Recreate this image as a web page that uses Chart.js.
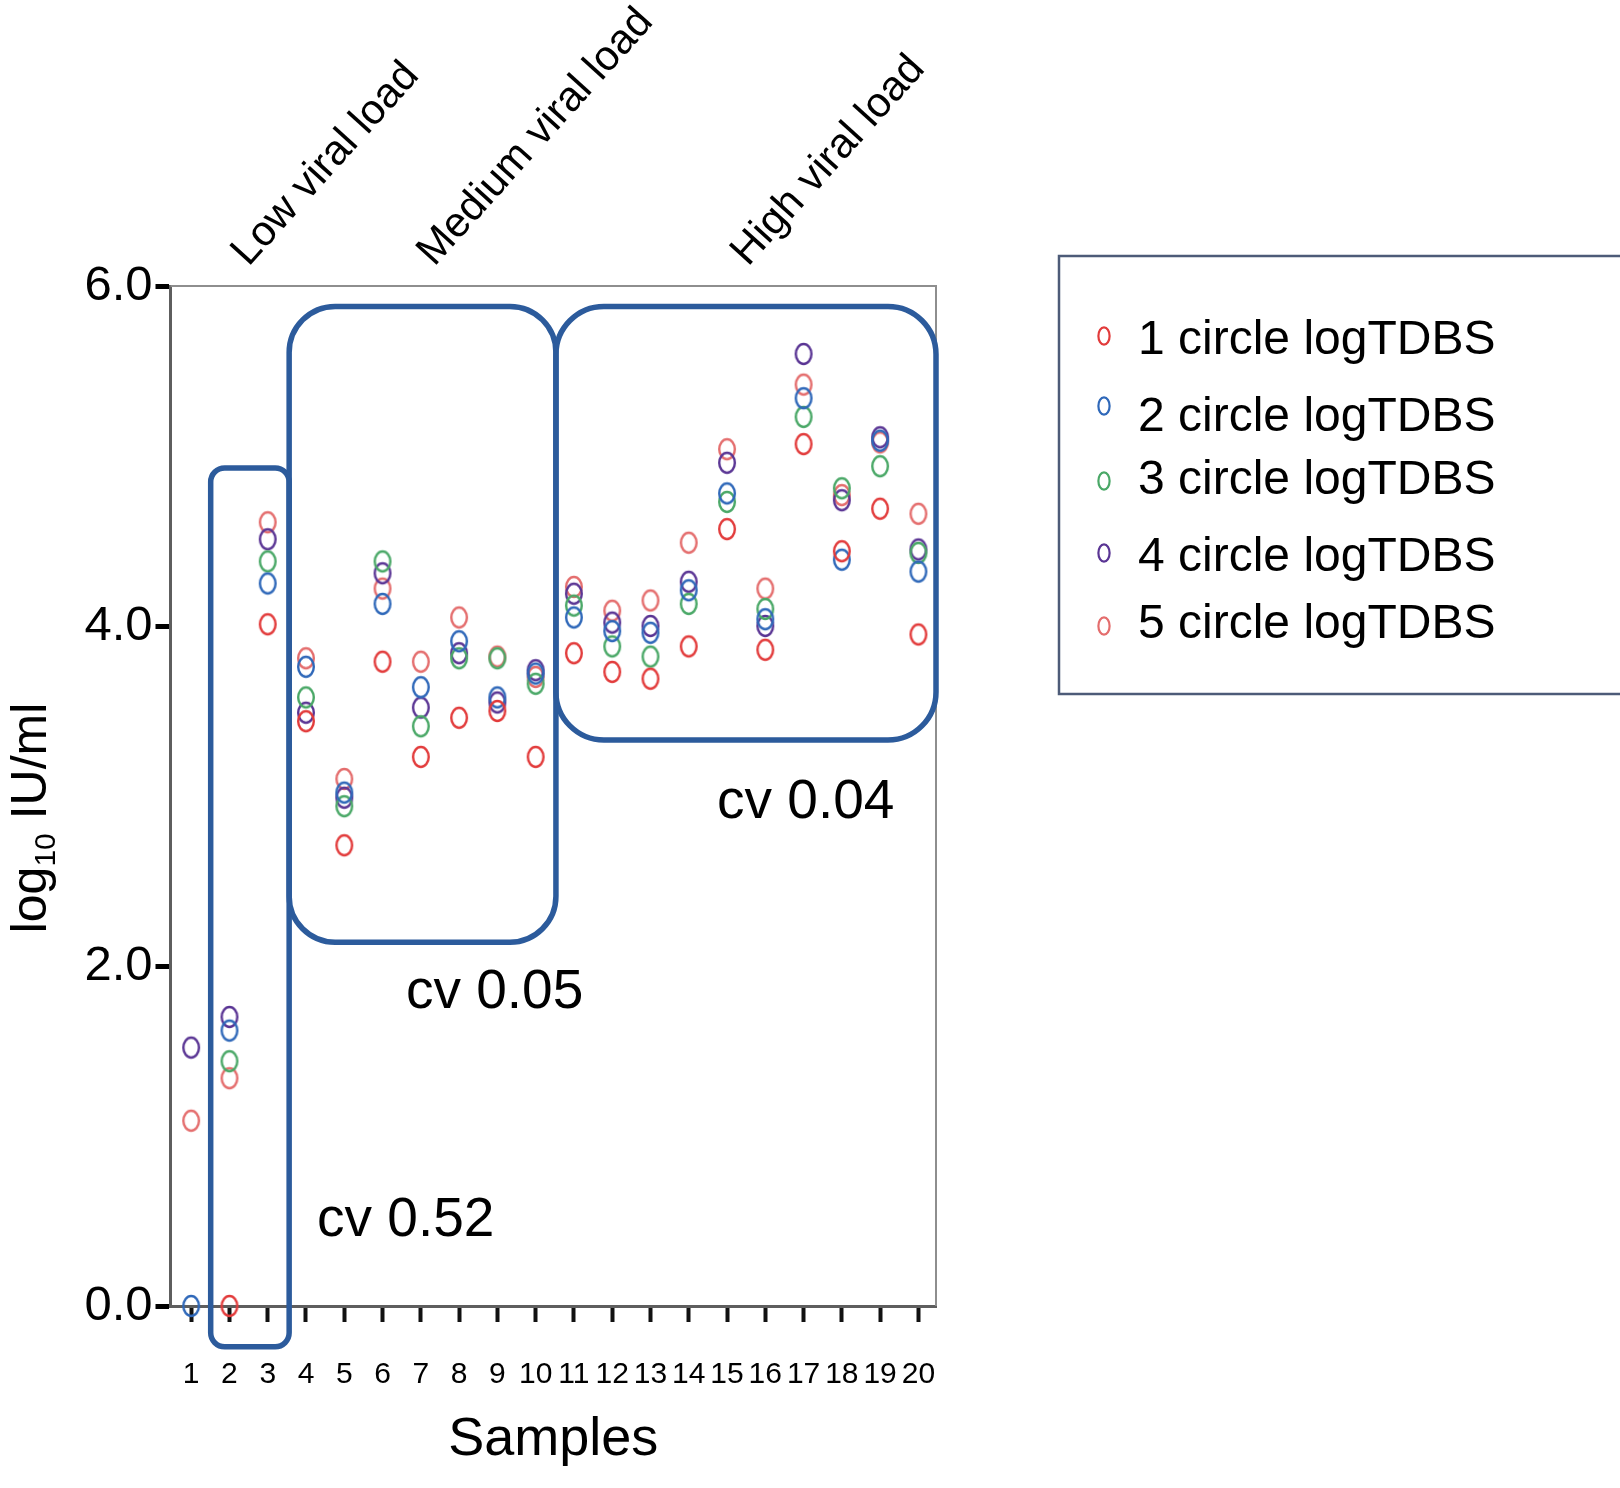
<!DOCTYPE html>
<html>
<head>
<meta charset="utf-8">
<script src="https://cdn.jsdelivr.net/npm/chart.js@4.4.1/dist/chart.umd.min.js"></script>
<style>
html,body{margin:0;padding:0;background:#fff;}
#wrap{width:1620px;height:1488px;}
</style>
</head>
<body>
<div id="wrap"><canvas id="c" width="1620" height="1488"></canvas></div>
<script>
// ---- data ----
const samples = [1,2,3,4,5,6,7,8,9,10,11,12,13,14,15,16,17,18,19,20];
const seriesNames = ['1 circle logTDBS','2 circle logTDBS','3 circle logTDBS','4 circle logTDBS','5 circle logTDBS'];
const circle1 = [null,0.00,4.01,3.44,2.71,3.79,3.23,3.46,3.50,3.23,3.84,3.73,3.69,3.88,4.57,3.86,5.07,4.44,4.69,3.95];
const circle2 = [0.00,1.62,4.25,3.76,3.02,4.13,3.64,3.91,3.58,3.72,4.05,3.97,3.96,4.21,4.78,4.04,5.34,4.39,5.09,4.32];
const circle3 = [null,1.44,4.38,3.58,2.94,4.38,3.41,3.81,3.81,3.66,4.12,3.88,3.82,4.13,4.73,4.10,5.23,4.81,4.94,4.43];
const circle4 = [1.52,1.70,4.51,3.49,2.99,4.31,3.52,3.84,3.55,3.74,4.19,4.02,4.00,4.26,4.96,4.00,5.60,4.74,5.11,4.45];
const circle5 = [1.09,1.34,4.61,3.81,3.10,4.22,3.79,4.05,3.82,3.70,4.23,4.09,4.15,4.49,5.04,4.22,5.42,4.77,5.08,4.66];
const yTicks = [0,2,4,6];
const groupNames = ['Low viral load','Medium viral load','High viral load'];
const cvLabels = ['cv 0.52','cv 0.05','cv 0.04'];
// group boxes, in axis units
const boxFrom = [1.51, 3.56, 10.53];
const boxTo   = [3.56, 10.53, 20.46];
const boxLow  = [-0.24, 2.14, 3.33];
const boxHigh = [4.93, 5.88, 5.88];

// ---- styling ----
const colors = ['#e23b3b','#2f68b9','#4aa867','#5a3594','#e46d6d'];
const FONT = "'Liberation Sans', Arial, Helvetica, sans-serif";
const seriesValues = [circle1, circle2, circle3, circle4, circle5];

function ellipseImg(color){
  const c = document.createElement('canvas');
  c.width = 22; c.height = 26;
  const g = c.getContext('2d');
  g.strokeStyle = color; g.lineWidth = 2.4;
  g.beginPath(); g.ellipse(11, 13, 7.8, 10, 0, 0, Math.PI*2); g.stroke();
  return c;
}

const groupLabelCfg = { x: [2.5, 7.35, 15.55], y: 6.11, angle: 48, size: 42 };
const cvCfg = { x: [4.29, 6.61, 14.74], y: [0.50, 1.84, 2.96], size: 55 };
const legendCfg = { box: [1059, 256, 570, 438], markerX: 1104, markerY: [336,406,481,553,626], textX: 1138, textY: [341,418,481,558,625], size: 48 };

function roundRectPath(ctx, l, t, r, b, rad){
  ctx.beginPath();
  ctx.moveTo(l+rad, t);
  ctx.lineTo(r-rad, t);
  ctx.arcTo(r, t, r, t+rad, rad);
  ctx.lineTo(r, b-rad);
  ctx.arcTo(r, b, r-rad, b, rad);
  ctx.lineTo(l+rad, b);
  ctx.arcTo(l, b, l, b-rad, rad);
  ctx.lineTo(l, t+rad);
  ctx.arcTo(l, t, l+rad, t, rad);
  ctx.closePath();
}

const deco = {
  id: 'deco',
  afterDraw(chart){
    const {ctx, chartArea: a, scales: {x, y}} = chart;
    ctx.save();
    // top and right frame
    ctx.strokeStyle = '#8e8e8e'; ctx.lineWidth = 2;
    ctx.beginPath(); ctx.moveTo(a.left, a.top); ctx.lineTo(a.right, a.top); ctx.lineTo(a.right, a.bottom); ctx.stroke();

    // group boxes
    ctx.strokeStyle = '#2c5b9c'; ctx.lineWidth = 5.5;
    const radii = [14, 46, 48];
    for (let i = 0; i < boxFrom.length; i++){
      const l = x.getPixelForValue(boxFrom[i]), r = x.getPixelForValue(boxTo[i]);
      const t = y.getPixelForValue(boxHigh[i]), b = y.getPixelForValue(boxLow[i]);
      roundRectPath(ctx, l, t, r, b, radii[i]);
      ctx.stroke();
    }

    // cv labels
    ctx.fillStyle = '#000';
    ctx.font = cvCfg.size + 'px ' + FONT;
    ctx.textAlign = 'left'; ctx.textBaseline = 'middle';
    cvLabels.forEach((s, i) => ctx.fillText(s, x.getPixelForValue(cvCfg.x[i]), y.getPixelForValue(cvCfg.y[i])));

    // rotated group labels
    ctx.font = groupLabelCfg.size + 'px ' + FONT;
    ctx.textBaseline = 'alphabetic';
    groupNames.forEach((s, i) => {
      ctx.save();
      ctx.translate(x.getPixelForValue(groupLabelCfg.x[i]), y.getPixelForValue(groupLabelCfg.y));
      ctx.rotate(-groupLabelCfg.angle * Math.PI / 180);
      ctx.fillText(s, 0, 0);
      ctx.restore();
    });

    // y title with subscript
    ctx.save();
    ctx.translate(46, (a.top + a.bottom) / 2 + 22);
    ctx.rotate(-Math.PI / 2);
    const big = '50px ' + FONT, small = '30px ' + FONT;
    ctx.font = big; const w1 = ctx.measureText('log').width, w3 = ctx.measureText(' IU/ml').width;
    ctx.font = small; const w2 = ctx.measureText('10').width;
    let sx = -(w1 + w2 + w3) / 2;
    ctx.font = big; ctx.fillText('log', sx, 0); sx += w1;
    ctx.font = small; ctx.fillText('10', sx, 9); sx += w2;
    ctx.font = big; ctx.fillText(' IU/ml', sx, 0);
    ctx.restore();

    // legend
    const [bx, by, bw, bh] = legendCfg.box;
    ctx.strokeStyle = '#4d5b78'; ctx.lineWidth = 2.5;
    ctx.strokeRect(bx, by, bw, bh);
    ctx.font = legendCfg.size + 'px ' + FONT;
    ctx.textBaseline = 'middle'; ctx.fillStyle = '#000';
    chart.data.datasets.forEach((ds, i) => {
      ctx.strokeStyle = colors[i]; ctx.lineWidth = 2.2;
      ctx.beginPath(); ctx.ellipse(legendCfg.markerX, legendCfg.markerY[i], 5.6, 8.6, 0, 0, Math.PI*2); ctx.stroke();
      ctx.fillText(ds.label, legendCfg.textX, legendCfg.textY[i]);
    });
    ctx.restore();
  }
};

const datasets = seriesValues.map((vals, i) => ({
  label: seriesNames[i],
  data: samples.map((s, j) => ({x: s, y: vals[j]})),
  pointStyle: ellipseImg(colors[i]),
  borderColor: colors[i],
  backgroundColor: 'transparent',
  clip: false,
  showLine: false
}));

new Chart(document.getElementById('c'), {
  type: 'scatter',
  data: { datasets },
  options: {
    responsive: false,
    animation: false,
    events: [],
    layout: { padding: { top: 286, right: 684, left: 0, bottom: 0 } },
    plugins: { legend: { display: false }, tooltip: { enabled: false } },
    scales: {
      x: {
        type: 'linear', min: 0.46, max: 20.46,
        afterBuildTicks: s => { s.ticks = samples.map(v => ({value: v})); },
        afterFit: s => { s.height = 182; },
        grid: { drawOnChartArea: false, drawTicks: true, tickLength: 16, tickWidth: 4, tickColor: '#111' },
        border: { display: true, color: '#5e5e5e', width: 3 },
        ticks: { autoSkip: false, maxRotation: 0, padding: 35, color: '#000', font: { family: FONT, size: 30 }, callback: v => String(v) },
        title: { display: true, text: 'Samples', color: '#000', font: { family: FONT, size: 54 }, padding: { top: 0, bottom: 15 } }
      },
      y: {
        type: 'linear', min: 0, max: 6,
        afterBuildTicks: s => { s.ticks = yTicks.map(v => ({value: v})); },
        afterFit: s => { s.width = 170.5; },
        grid: { drawOnChartArea: false, drawTicks: true, tickLength: 15, tickWidth: 5, tickColor: '#000' },
        border: { display: true, color: '#5e5e5e', width: 3 },
        ticks: { padding: 3, color: '#000', font: { family: FONT, size: 49 }, callback: v => Number(v).toFixed(1) }
      }
    }
  },
  plugins: [deco]
});
</script>
</body>
</html>
